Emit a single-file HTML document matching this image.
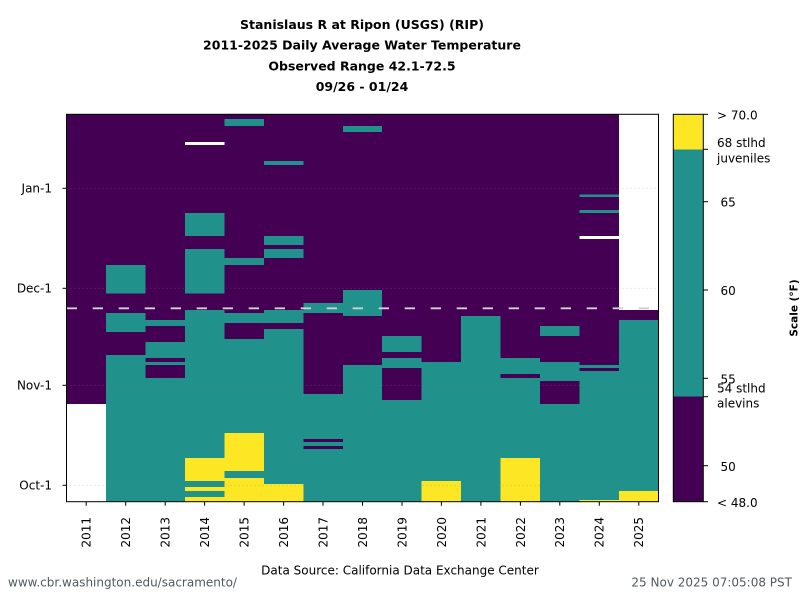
<!DOCTYPE html>
<html><head><meta charset="utf-8"><style>
html,body{margin:0;padding:0;background:#fff;width:800px;height:600px;overflow:hidden}
svg{display:block}
text{font-family:"DejaVu Sans","Liberation Sans",sans-serif}
</style></head><body>
<svg width="800" height="600" viewBox="0 0 800 600" xmlns="http://www.w3.org/2000/svg">
<rect x="0" y="0" width="800" height="600" fill="#fff"/>
<!-- title -->
<g font-weight="bold" font-size="12.5" text-anchor="middle" fill="#000">
<text x="362" y="29">Stanislaus R at Ripon (USGS) (RIP)</text>
<text x="362" y="49.7">2011-2025 Daily Average Water Temperature</text>
<text x="362" y="70.3">Observed Range 42.1-72.5</text>
<text x="362" y="91">09/26 - 01/24</text>
</g>
<!-- heatmap -->
<g shape-rendering="crispEdges">
<rect x="66.5" y="114.3" width="592" height="387.4" fill="#440154"/>
<g fill="#21918c">
<rect x="105.97" y="265" width="39.47" height="28.7"/>
<rect x="105.97" y="313" width="39.47" height="19"/>
<rect x="105.97" y="355" width="39.47" height="146.7"/>
<rect x="145.43" y="320" width="39.47" height="6"/>
<rect x="145.43" y="342" width="39.47" height="16"/>
<rect x="145.43" y="362" width="39.47" height="3"/>
<rect x="145.43" y="378" width="39.47" height="123.7"/>
<rect x="184.9" y="213" width="39.47" height="23"/>
<rect x="184.9" y="249" width="39.47" height="44.7"/>
<rect x="184.9" y="310" width="39.47" height="191.7"/>
<rect x="224.37" y="119" width="39.47" height="7"/>
<rect x="224.37" y="258" width="39.47" height="7"/>
<rect x="224.37" y="313" width="39.47" height="10"/>
<rect x="224.37" y="339" width="39.47" height="162.7"/>
<rect x="263.83" y="161" width="39.47" height="4"/>
<rect x="263.83" y="236" width="39.47" height="9"/>
<rect x="263.83" y="249" width="39.47" height="9"/>
<rect x="263.83" y="310" width="39.47" height="13"/>
<rect x="263.83" y="329" width="39.47" height="172.7"/>
<rect x="303.3" y="303" width="39.47" height="10"/>
<rect x="303.3" y="394" width="39.47" height="107.7"/>
<rect x="342.77" y="126" width="39.47" height="6"/>
<rect x="342.77" y="290" width="39.47" height="26"/>
<rect x="342.77" y="365" width="39.47" height="136.7"/>
<rect x="382.23" y="336" width="39.47" height="16"/>
<rect x="382.23" y="358" width="39.47" height="10"/>
<rect x="382.23" y="400" width="39.47" height="101.7"/>
<rect x="421.7" y="362" width="39.47" height="139.7"/>
<rect x="461.17" y="316" width="39.47" height="185.7"/>
<rect x="500.63" y="358" width="39.47" height="16"/>
<rect x="500.63" y="378" width="39.47" height="123.7"/>
<rect x="540.1" y="326" width="39.47" height="10"/>
<rect x="540.1" y="362" width="39.47" height="19"/>
<rect x="540.1" y="404" width="39.47" height="97.7"/>
<rect x="579.57" y="194.3" width="39.47" height="2.7"/>
<rect x="579.57" y="210" width="39.47" height="3"/>
<rect x="579.57" y="365" width="39.47" height="3"/>
<rect x="579.57" y="371" width="39.47" height="130.7"/>
<rect x="619.03" y="320" width="39.47" height="181.7"/>
</g>
<g fill="#440154">
<rect x="303.3" y="439" width="39.47" height="3"/>
<rect x="303.3" y="446" width="39.47" height="3"/>
</g>
<g fill="#fde725">
<rect x="184.9" y="458" width="39.47" height="23"/>
<rect x="184.9" y="487" width="39.47" height="4"/>
<rect x="184.9" y="497" width="39.47" height="4.7"/>
<rect x="224.37" y="433" width="39.47" height="38"/>
<rect x="224.37" y="478" width="39.47" height="23.7"/>
<rect x="263.83" y="484" width="39.47" height="17.7"/>
<rect x="421.7" y="481" width="39.47" height="20.7"/>
<rect x="500.63" y="458" width="39.47" height="43.7"/>
<rect x="579.57" y="500" width="39.47" height="1.7"/>
<rect x="619.03" y="491" width="39.47" height="10.7"/>
</g>
<g fill="#fff">
<rect x="66.5" y="404" width="39.47" height="97.7"/>
<rect x="184.9" y="142" width="39.47" height="3"/>
<rect x="579.57" y="236" width="39.47" height="3"/>
<rect x="619.03" y="114.3" width="39.47" height="195.7"/>
</g>
</g>
<!-- grid -->
<g stroke="#808080" stroke-opacity="0.4" stroke-width="0.8" stroke-dasharray="1,3">
<line x1="66.5" y1="188.3" x2="658.5" y2="188.3"/>
<line x1="66.5" y1="288.3" x2="658.5" y2="288.3"/>
<line x1="66.5" y1="385.3" x2="658.5" y2="385.3"/>
<line x1="66.5" y1="485.3" x2="658.5" y2="485.3"/>
</g>
<!-- dashed line -->
<line x1="66.7" y1="308.3" x2="658.5" y2="308.3" stroke="#cfcfcf" stroke-width="1.8" stroke-dasharray="10.3,15.7"/>
<!-- frame -->
<rect x="66.5" y="114.3" width="592" height="387.4" fill="none" stroke="#000" stroke-width="1"/>
<!-- y ticks -->
<g stroke="#000" stroke-width="1">
<line x1="62.5" y1="188.3" x2="66.5" y2="188.3"/>
<line x1="62.5" y1="288.3" x2="66.5" y2="288.3"/>
<line x1="62.5" y1="385.3" x2="66.5" y2="385.3"/>
<line x1="62.5" y1="485.3" x2="66.5" y2="485.3"/>
</g>
<g font-size="12" text-anchor="end" fill="#000">
<text x="52" y="192.6">Jan-1</text>
<text x="52" y="292.6">Dec-1</text>
<text x="52" y="389.6">Nov-1</text>
<text x="52" y="489.6">Oct-1</text>
</g>
<!-- x ticks -->
<g stroke="#000" stroke-width="1">
<line x1="86.2" y1="501.7" x2="86.2" y2="505.7"/>
<line x1="125.7" y1="501.7" x2="125.7" y2="505.7"/>
<line x1="165.2" y1="501.7" x2="165.2" y2="505.7"/>
<line x1="204.6" y1="501.7" x2="204.6" y2="505.7"/>
<line x1="244.1" y1="501.7" x2="244.1" y2="505.7"/>
<line x1="283.6" y1="501.7" x2="283.6" y2="505.7"/>
<line x1="323.0" y1="501.7" x2="323.0" y2="505.7"/>
<line x1="362.5" y1="501.7" x2="362.5" y2="505.7"/>
<line x1="402.0" y1="501.7" x2="402.0" y2="505.7"/>
<line x1="441.4" y1="501.7" x2="441.4" y2="505.7"/>
<line x1="480.9" y1="501.7" x2="480.9" y2="505.7"/>
<line x1="520.4" y1="501.7" x2="520.4" y2="505.7"/>
<line x1="559.8" y1="501.7" x2="559.8" y2="505.7"/>
<line x1="599.3" y1="501.7" x2="599.3" y2="505.7"/>
<line x1="638.8" y1="501.7" x2="638.8" y2="505.7"/>
</g>
<g font-size="12" text-anchor="end" fill="#000">
<text transform="translate(90.6,517) rotate(-90)">2011</text>
<text transform="translate(130.1,517) rotate(-90)">2012</text>
<text transform="translate(169.6,517) rotate(-90)">2013</text>
<text transform="translate(209.0,517) rotate(-90)">2014</text>
<text transform="translate(248.5,517) rotate(-90)">2015</text>
<text transform="translate(288.0,517) rotate(-90)">2016</text>
<text transform="translate(327.4,517) rotate(-90)">2017</text>
<text transform="translate(366.9,517) rotate(-90)">2018</text>
<text transform="translate(406.4,517) rotate(-90)">2019</text>
<text transform="translate(445.8,517) rotate(-90)">2020</text>
<text transform="translate(485.3,517) rotate(-90)">2021</text>
<text transform="translate(524.8,517) rotate(-90)">2022</text>
<text transform="translate(564.2,517) rotate(-90)">2023</text>
<text transform="translate(603.7,517) rotate(-90)">2024</text>
<text transform="translate(643.2,517) rotate(-90)">2025</text>
</g>
<!-- colorbar -->
<g shape-rendering="crispEdges">
<rect x="673.3" y="114.3" width="30" height="35" fill="#fde725"/>
<rect x="673.3" y="149.3" width="30" height="247.4" fill="#21918c"/>
<rect x="673.3" y="396.7" width="30" height="105" fill="#440154"/>
</g>
<rect x="673.3" y="114.3" width="30" height="387.4" fill="none" stroke="#000" stroke-width="1"/>
<g stroke="#000" stroke-width="1">
<line x1="703.3" y1="114.3" x2="708" y2="114.3"/>
<line x1="703.3" y1="149.3" x2="708" y2="149.3"/>
<line x1="703.3" y1="201.7" x2="708" y2="201.7"/>
<line x1="703.3" y1="290" x2="708" y2="290"/>
<line x1="703.3" y1="378.3" x2="708" y2="378.3"/>
<line x1="703.3" y1="396.7" x2="708" y2="396.7"/>
<line x1="703.3" y1="465.7" x2="708" y2="465.7"/>
<line x1="703.3" y1="501.7" x2="708" y2="501.7"/>
</g>
<g font-size="12" fill="#000">
<text x="717" y="119.3">&gt; 70.0</text>
<text x="717" y="147">68 stlhd</text>
<text x="717" y="162.6">juveniles</text>
<text x="720.5" y="206.5">65</text>
<text x="720.5" y="295">60</text>
<text x="720.5" y="383.3">55</text>
<text x="717" y="392.6">54 stlhd</text>
<text x="717" y="407.6">alevins</text>
<text x="720.5" y="471">50</text>
<text x="717" y="507">&lt; 48.0</text>
</g>
<text transform="translate(797.5,308) rotate(-90)" font-size="10.5" font-weight="bold" text-anchor="middle" fill="#000">Scale (°F)</text>
<!-- footer -->
<text x="400" y="574.5" font-size="12" text-anchor="middle" fill="#000">Data Source: California Data Exchange Center</text>
<text x="8" y="586.5" font-size="12" fill="#505a5f">www.cbr.washington.edu/sacramento/</text>
<text x="792" y="586.5" font-size="12" text-anchor="end" fill="#505a5f">25 Nov 2025 07:05:08 PST</text>
</svg>
</body></html>
